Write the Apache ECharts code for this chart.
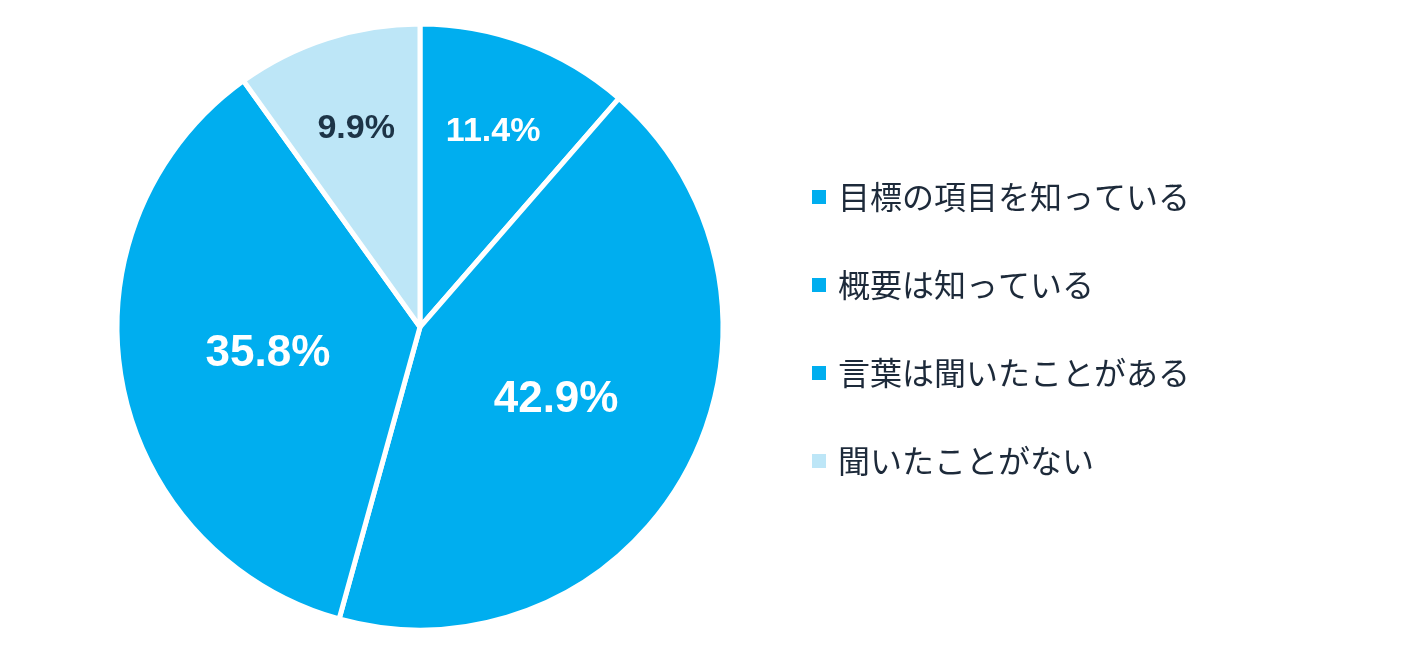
<!DOCTYPE html>
<html><head><meta charset="utf-8">
<script src="https://cdn.jsdelivr.net/npm/echarts@6/dist/echarts.min.js"></script>
<style>html,body{margin:0;background:#fff}#c{width:1408px;height:658px}</style>
</head><body><div id="c"></div>
<script>
const categories = ['目標の項目を知っている','概要は知っている','言葉は聞いたことがある','聞いたことがない'];
const values = [11.4, 42.9, 35.8, 9.9];
const colors = ['#00AEEF','#00AEEF','#00AEEF','#BDE6F7'];
const labelColors = ['#fff','#fff','#fff','#1d3447'];
const labelSizes = [34,44,44,34];
const chart = echarts.init(document.getElementById('c'));
const cx=420, cy=327;
chart.setOption({
  animation:false,
  legend:{orient:'vertical',left:805,top:'middle',itemGap:56,itemWidth:16,itemHeight:16,icon:'rect',
    textStyle:{fontSize:32,color:'#1d2a3a',fontFamily:'Noto Sans CJK JP',padding:[0,0,0,6]},
    data:categories},
  series:[{type:'pie',center:[cx,cy],radius:303,startAngle:90,clockwise:true,
    itemStyle:{borderColor:'#fff',borderWidth:5},
    label:{position:'inside',fontFamily:'Arial',fontWeight:'bold',formatter:p=>p.value.toFixed(1)+'%'},
    labelLine:{show:false},
    labelLayout:function(p){
      if(p.dataIndex===0||p.dataIndex===3){
        const lx=p.labelRect.x+p.labelRect.width/2, ly=p.labelRect.y+p.labelRect.height/2;
        const k=1.35;
        return {dx:(lx-cx)*(k-1),dy:(ly-cy)*(k-1)};
      }
      return {};
    },
    data:categories.map((n,i)=>({name:n,value:values[i],itemStyle:{color:colors[i]},
      label:{color:labelColors[i],fontSize:labelSizes[i]}}))
  }]
});
</script></body></html>
